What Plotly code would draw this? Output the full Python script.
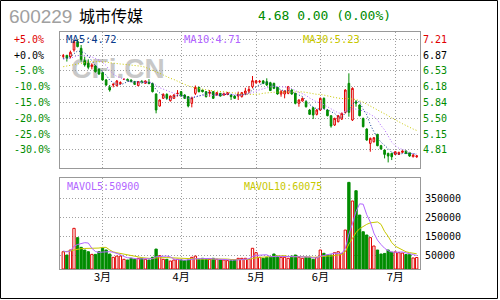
import plotly.graph_objects as go

# ---------------- data ----------------
STOCK_CODE = "600229"
STOCK_NAME = "城市传媒"
QUOTE = "4.68 0.00 (0.00%)"

OPEN = [6.845, 6.866, 6.837, 6.982, 7.163, 7.018, 6.75, 6.692, 6.62, 6.634,
        6.561, 6.489, 6.33, 6.17, 6.22, 6.206, 6.25, 6.34, 6.344, 6.33,
        6.293, 6.206, 6.293, 6.257, 6.28, 6.257, 6.025, 5.764, 5.931, 6.018,
        5.88, 5.931, 6.03, 6.076, 6.003, 5.967, 5.822, 6.039, 6.17, 6.112,
        6.076, 6.039, 6.076, 6.003, 6.039, 6.003, 6.018, 6.003, 5.98, 5.98,
        5.967, 6.039, 6.09, 6.184, 6.27, 6.29, 6.31, 6.293, 6.27, 6.257,
        6.17, 6.025, 6.025, 6.039, 6.112, 6.039, 5.822, 5.873, 5.858, 5.677,
        5.728, 5.583, 5.677, 5.931, 5.677, 5.554, 5.351, 5.423, 5.481, 5.626,
        6.257, 5.46, 5.85, 5.786, 5.496, 5.264, 4.952, 4.989, 5.148, 4.902,
        4.807, 4.735, 4.735, 4.713, 4.713, 4.757, 4.786, 4.75, 4.662, 4.66]
HIGH = [6.895, 6.87, 6.967, 7.199, 7.21, 7.09, 6.837, 6.779, 6.692, 6.65,
        6.58, 6.50, 6.35, 6.221, 6.26, 6.33, 6.30, 6.36, 6.36, 6.34,
        6.31, 6.30, 6.33, 6.32, 6.35, 6.27, 6.04, 5.91, 6.04, 6.04,
        5.99, 6.02, 6.11, 6.09, 6.02, 5.98, 5.967, 6.21, 6.18, 6.12,
        6.09, 6.112, 6.09, 6.07, 6.05, 6.05, 6.07, 6.01, 5.99, 6.076,
        6.07, 6.16, 6.199, 6.416, 6.33, 6.33, 6.33, 6.366, 6.29, 6.27,
        6.18, 6.112, 6.10, 6.20, 6.13, 6.05, 5.91, 5.95, 5.88, 5.70,
        5.74, 5.70, 5.95, 5.95, 5.69, 5.56, 5.51, 5.57, 5.62, 6.13,
        6.474, 6.17, 5.894, 5.80, 5.51, 5.28, 5.08, 5.09, 5.16, 4.92,
        4.82, 4.75, 4.75, 4.78, 4.77, 4.80, 4.80, 4.76, 4.72, 4.70]
LOW = [6.80, 6.73, 6.80, 6.945, 7.04, 6.728, 6.62, 6.561, 6.561, 6.49,
       6.44, 6.32, 6.20, 6.076, 6.17, 6.19, 6.23, 6.33, 6.30, 6.28,
       6.22, 6.20, 6.26, 6.25, 6.24, 6.06, 5.605, 5.75, 5.92, 5.90,
       5.86, 5.92, 5.97, 5.97, 5.92, 5.735, 5.735, 6.003, 6.06, 6.06,
       5.95, 5.967, 5.92, 5.99, 5.97, 5.99, 6.0, 5.894, 5.92, 5.894,
       5.95, 6.0, 6.039, 6.148, 6.25, 6.26, 6.24, 6.2, 6.09, 6.13,
       6.01, 5.967, 5.931, 6.02, 6.01, 5.80, 5.749, 5.86, 5.73, 5.57,
       5.481, 5.56, 5.66, 5.70, 5.54, 5.293, 5.33, 5.41, 5.46, 5.60,
       5.532, 5.44, 5.749, 5.54, 5.30, 5.01, 4.771, 4.97, 4.89, 4.82,
       4.626, 4.539, 4.59, 4.70, 4.70, 4.74, 4.72, 4.66, 4.65, 4.64]
CLOSE = [6.855, 6.80, 6.931, 7.163, 7.054, 6.779, 6.656, 6.605, 6.656, 6.511,
         6.46, 6.33, 6.221, 6.112, 6.235, 6.308, 6.271, 6.345, 6.315, 6.293,
         6.235, 6.293, 6.271, 6.308, 6.25, 6.076, 5.677, 5.895, 6.018, 5.931,
         5.982, 6.003, 6.04, 5.982, 5.931, 5.764, 5.945, 6.17, 6.076, 6.076,
         5.967, 6.06, 5.931, 6.054, 5.98, 6.039, 6.054, 5.967, 5.931, 6.025,
         6.054, 6.09, 6.126, 6.314, 6.31, 6.30, 6.257, 6.221, 6.10, 6.148,
         6.025, 6.076, 6.09, 6.184, 6.025, 5.822, 5.894, 5.931, 5.749, 5.583,
         5.568, 5.677, 5.931, 5.713, 5.554, 5.329, 5.496, 5.554, 5.605, 6.112,
         5.626, 6.148, 5.83, 5.554, 5.315, 5.025, 5.061, 5.075, 4.902, 4.829,
         4.713, 4.677, 4.662, 4.771, 4.757, 4.786, 4.735, 4.677, 4.699, 4.68]
VOLUME = [71000, 53700, 80000, 194000, 145000, 94000, 80000, 71000, 57000, 57000,
          71000, 89000, 80000, 59000, 41600, 48000, 48000, 31000, 27400, 36300,
          31000, 36300, 36300, 31000, 27400, 41600, 85000, 50000, 31000, 31000,
          22000, 27400, 31000, 27400, 24000, 27400, 41600, 48000, 31000, 36300,
          31000, 31000, 36300, 31000, 27400, 27400, 24000, 24000, 27400, 36300,
          36300, 36300, 31000, 89000, 66000, 41600, 36300, 41600, 41600, 59000,
          48000, 41600, 41600, 36300, 48000, 53700, 41600, 36300, 41600, 41600,
          31000, 41600, 80000, 62600, 53700, 53700, 66000, 71000, 62600, 185000,
          436000, 338000, 392000, 264000, 176000, 159000, 145000, 101000, 80000, 59000,
          62000, 80000, 68000, 70000, 66000, 64000, 56000, 56000, 38000, 40500]
MA5 = [6.80, 6.81, 6.84, 6.90, 6.961, 6.945, 6.917, 6.851, 6.75, 6.641,
       6.578, 6.512, 6.436, 6.327, 6.272, 6.241, 6.229, 6.254, 6.295, 6.306,
       6.292, 6.296, 6.281, 6.28, 6.271, 6.24, 6.116, 6.041, 5.983, 5.919,
       5.901, 5.966, 5.995, 5.988, 5.988, 5.944, 5.932, 5.958, 5.977, 6.006,
       6.047, 6.07, 6.022, 6.018, 5.998, 6.013, 6.012, 6.019, 5.994, 6.003,
       6.006, 6.013, 6.045, 6.122, 6.179, 6.228, 6.261, 6.28, 6.238, 6.205,
       6.15, 6.114, 6.088, 6.105, 6.08, 6.039, 6.003, 5.971, 5.884, 5.796,
       5.745, 5.702, 5.702, 5.694, 5.689, 5.641, 5.605, 5.529, 5.508, 5.619,
       5.679, 5.809, 5.864, 5.854, 5.694, 5.574, 5.36, 5.206, 5.076, 4.978,
       4.916, 4.839, 4.757, 4.73, 4.716, 4.731, 4.733, 4.736, 4.731, 4.72]
MA10 = [6.78, 6.79, 6.80, 6.83, 6.86, 6.86, 6.86, 6.85, 6.83, 6.801,
        6.762, 6.715, 6.644, 6.538, 6.457, 6.409, 6.371, 6.345, 6.311, 6.289,
        6.267, 6.263, 6.268, 6.287, 6.289, 6.266, 6.206, 6.161, 6.132, 6.095,
        6.07, 6.041, 6.018, 5.985, 5.954, 5.922, 5.949, 5.977, 5.982, 5.997,
        5.995, 6.001, 5.99, 5.997, 6.002, 6.03, 6.041, 6.02, 6.006, 6.001,
        6.01, 6.013, 6.032, 6.058, 6.091, 6.117, 6.137, 6.163, 6.18, 6.192,
        6.189, 6.188, 6.184, 6.171, 6.143, 6.095, 6.059, 6.03, 5.994, 5.938,
        5.892, 5.852, 5.836, 5.789, 5.742, 5.693, 5.653, 5.615, 5.601, 5.654,
        5.66, 5.707, 5.697, 5.681, 5.657, 5.627, 5.584, 5.537, 5.466, 5.338,
        5.247, 5.10, 4.98, 4.902, 4.846, 4.822, 4.786, 4.747, 4.726, 4.711]
MA30 = [6.619, 6.634, 6.656, 6.677, 6.692, 6.706, 6.714, 6.721, 6.728, 6.728,
        6.728, 6.728, 6.721, 6.706, 6.692, 6.685, 6.677, 6.67, 6.663, 6.656,
        6.648, 6.641, 6.627, 6.605, 6.576, 6.547, 6.511, 6.474, 6.438, 6.395,
        6.366, 6.339, 6.31, 6.27, 6.233, 6.199, 6.175, 6.161, 6.142, 6.127,
        6.111, 6.102, 6.092, 6.09, 6.082, 6.073, 6.065, 6.053, 6.04, 6.031,
        6.025, 6.018, 6.013, 6.014, 6.016, 6.023, 6.042, 6.053, 6.056, 6.063,
        6.065, 6.067, 6.069, 6.076, 6.079, 6.081, 6.079, 6.071, 6.06, 6.044,
        6.03, 6.018, 6.018, 6.006, 5.992, 5.968, 5.95, 5.936, 5.925, 5.928,
        5.914, 5.916, 5.906, 5.881, 5.848, 5.805, 5.765, 5.727, 5.687, 5.643,
        5.6, 5.553, 5.505, 5.458, 5.414, 5.38, 5.341, 5.299, 5.264, 5.234]
MAVOL5 = [75000, 70000, 75000, 100000, 108700, 113300, 118600, 116800, 89400, 71800,
          67200, 69000, 70800, 71200, 68100, 63500, 55300, 45500, 39200, 38100,
          34700, 32400, 33500, 34200, 32400, 34500, 44300, 47000, 47000, 47700,
          43800, 32300, 28500, 27800, 26400, 27400, 30300, 33700, 34400, 36900,
          37600, 35500, 33100, 33100, 31300, 30600, 29200, 26800, 26000, 27800,
          29600, 32100, 33500, 45800, 51700, 52800, 52800, 54900, 45400, 44000,
          45300, 46400, 46400, 45300, 43100, 44200, 44200, 43200, 44200, 43000,
          38400, 38400, 47200, 51400, 53800, 58300, 63200, 61400, 61400, 87700,
          164100, 218500, 282700, 323000, 321200, 265800, 227200, 169000, 132200, 108800,
          89400, 76400, 69800, 67800, 69200, 69600, 64800, 62400, 56000, 50900]
MAVOL10 = [70000, 72000, 75000, 80000, 85000, 87000, 88000, 88000, 88000, 90300,
           90300, 93800, 93800, 80300, 70000, 65400, 62200, 58200, 55200, 53100,
           49100, 43900, 39500, 36700, 35300, 34600, 38300, 40200, 40600, 40100,
           39200, 38300, 37700, 37400, 37000, 35600, 31300, 31100, 31100, 31600,
           32500, 32900, 33400, 33800, 34100, 34100, 32300, 29900, 29600, 29600,
           30100, 30600, 30100, 35900, 39800, 41200, 42400, 44200, 45600, 47900,
           49000, 49600, 50600, 45400, 43600, 44800, 45300, 44800, 44800, 43000,
           41300, 41300, 45200, 47800, 48400, 48400, 50800, 54300, 56400, 70700,
           111200, 140900, 172100, 192200, 204400, 215000, 222900, 225900, 227600, 215000,
           177600, 151800, 119400, 100000, 89000, 79500, 70600, 66100, 61900, 60075]

MONTH_POS = [11, 33, 54, 72, 93]
MONTH_LABELS = ["3月", "4月", "5月", "6月", "7月"]
PRICE_TICKS = [7.21, 6.87, 6.53, 6.18, 5.84, 5.50, 5.15, 4.81]
PCT_TICKS = [5, 0, -5, -10, -15, -20, -25, -30]
VOL_TICKS = [50000, 150000, 250000, 350000]

# ---------------- style ----------------
RED = "#e00000"
GREEN = "#008c00"
GRID = "#a0a0a0"
FRAME = "#999999"
C_MA5 = "#0a3c8c"
C_MA10 = "#b266ff"
C_MA30 = "#c8c800"
MONO = "DejaVu Sans Mono"
CJK = "Noto Sans CJK SC"
DOT = "1px,2px"

X_RANGE = [-0.92, 99.92]
P_RANGE = [4.4175, 7.383]
VOL_MIN, VOL_MAX = -20000, 459000

idx = list(range(len(CLOSE)))
up = [c >= o for o, c in zip(OPEN, CLOSE)]


def tcolor(v):
    return RED if v > 0 else ("#000000" if v == 0 else GREEN)


pct_text = [f"<span style='color:{tcolor(p)}'>{p:+.1f}%</span>" for p in PCT_TICKS]
price_text = [f"<span style='color:{tcolor(p)}'>{v:.2f}</span>"
              for v, p in zip(PRICE_TICKS, PCT_TICKS)]

fig = go.Figure()
fig.add_trace(go.Candlestick(
    x=idx, open=OPEN, high=HIGH, low=LOW, close=CLOSE,
    increasing=dict(line=dict(color=RED, width=1), fillcolor="#ffffff"),
    decreasing=dict(line=dict(color=GREEN, width=1), fillcolor=GREEN),
    whiskerwidth=0, xaxis="x", yaxis="y", showlegend=False, hoverinfo="skip"))
for arr, col in [(MA30, C_MA30), (MA10, C_MA10), (MA5, C_MA5)]:
    fig.add_trace(go.Scatter(x=idx, y=arr, mode="lines",
                             line=dict(color=col, width=1, dash=DOT),
                             xaxis="x", yaxis="y", showlegend=False, hoverinfo="skip"))
fig.add_trace(go.Scatter(x=idx, y=CLOSE, mode="lines",
                         line=dict(width=0, color="rgba(0,0,0,0)"),
                         xaxis="x", yaxis="y3", showlegend=False, hoverinfo="skip"))

fig.add_trace(go.Bar(
    x=idx, y=[v - VOL_MIN for v in VOLUME], base=VOL_MIN,
    marker=dict(color=["#ffffff" if u else GREEN for u in up],
                line=dict(color=[RED if u else GREEN for u in up], width=1)),
    xaxis="x2", yaxis="y2", showlegend=False, hoverinfo="skip"))
for arr, col in [(MAVOL10, C_MA30), (MAVOL5, C_MA10)]:
    fig.add_trace(go.Scatter(x=idx, y=arr, mode="lines",
                             line=dict(color=col, width=1),
                             xaxis="x2", yaxis="y2", showlegend=False, hoverinfo="skip"))

axis_common = dict(showline=True, mirror=True, linecolor=FRAME, linewidth=1,
                   showgrid=True, gridcolor=GRID, gridwidth=1, griddash=DOT,
                   zeroline=False, ticks="", fixedrange=True)

fig.update_layout(
    width=500, height=300, margin=dict(l=0, r=0, t=0, b=0),
    paper_bgcolor="#ffffff", plot_bgcolor="rgba(0,0,0,0)",
    showlegend=False, boxgap=0.35, bargap=0.35,
    font=dict(family=MONO, size=10, color="#000000"),
    xaxis=dict(domain=[0.12, 0.84], range=X_RANGE, anchor="y",
               tickvals=MONTH_POS, showticklabels=False,
               rangeslider=dict(visible=False), **axis_common),
    yaxis=dict(domain=[0.44, 0.895], range=P_RANGE, anchor="x", side="right",
               tickvals=PRICE_TICKS, ticktext=price_text,
               tickfont=dict(family=MONO, size=10), ticklabelstandoff=0,
               **axis_common),
    yaxis3=dict(overlaying="y", range=P_RANGE, anchor="free", position=10 / 500,
                side="left", ticklabelposition="inside",
                tickvals=PRICE_TICKS, ticktext=pct_text, showgrid=False,
                showline=False, zeroline=False, ticks="", fixedrange=True,
                tickfont=dict(family=MONO, size=10)),
    xaxis2=dict(domain=[0.12, 0.84], range=X_RANGE, anchor="y2",
                tickvals=MONTH_POS, ticktext=MONTH_LABELS,
                tickfont=dict(family=CJK, size=11, color="#000000"),
                ticklabelstandoff=-2, **axis_common),
    yaxis2=dict(domain=[1 - 269 / 300, 1 - 178 / 300], range=[VOL_MIN, VOL_MAX],
                anchor="x2", side="right", tickvals=VOL_TICKS,
                ticktext=[str(v) for v in VOL_TICKS],
                tickfont=dict(family=MONO, size=10), ticklabelstandoff=2,
                **axis_common),
)

# frame and watermark
fig.add_shape(type="rect", xref="paper", yref="paper",
              x0=0.5 / 500, x1=497.5 / 500, y0=1 - 298.5 / 300, y1=1 - 0.5 / 300,
              line=dict(color="#000000", width=1), fillcolor="rgba(0,0,0,0)", layer="above")
fig.add_shape(type="rect", xref="paper", yref="paper",
              x0=66 / 500, x1=170 / 500, y0=1 - 78 / 300, y1=1 - 52 / 300,
              line=dict(width=0), fillcolor="rgba(0,0,0,0)", layer="below",
              label=dict(text="CFi.CN", textposition="middle center",
                         font=dict(family="Liberation Sans", size=28, color="#c8c8c8",
                                   weight="bold")))

def ann(text, x, y, color, size, family, xanchor="left"):
    fig.add_annotation(text=text, xref="paper", yref="paper", x=x / 500, y=1 - y / 300,
                       xanchor=xanchor, yanchor="middle", showarrow=False,
                       font=dict(family=family, size=size, color=color))

ann(STOCK_CODE, 7, 16.5, "#a0a0a0", 19, "Liberation Sans")
ann(STOCK_NAME, 77, 15, "#000000", 16, CJK)
ann(QUOTE, 256, 15, GREEN, 13, MONO)
ann(f"MA5:{MA5[-1]:.2f}", 64, 39, C_MA5, 10.5, MONO)
ann(f"MA10:{MA10[-1]:.2f}", 182, 39, C_MA10, 10.5, MONO)
ann(f"MA30:{MA30[-1]:.2f}", 301, 39, C_MA30, 10.5, MONO)
ann(f"MAVOL5:{MAVOL5[-1]}", 65, 186, C_MA10, 10, MONO)
ann(f"MAVOL10:{MAVOL10[-1]}", 242, 186, C_MA30, 10, MONO)

fig.write_html("out.html")
